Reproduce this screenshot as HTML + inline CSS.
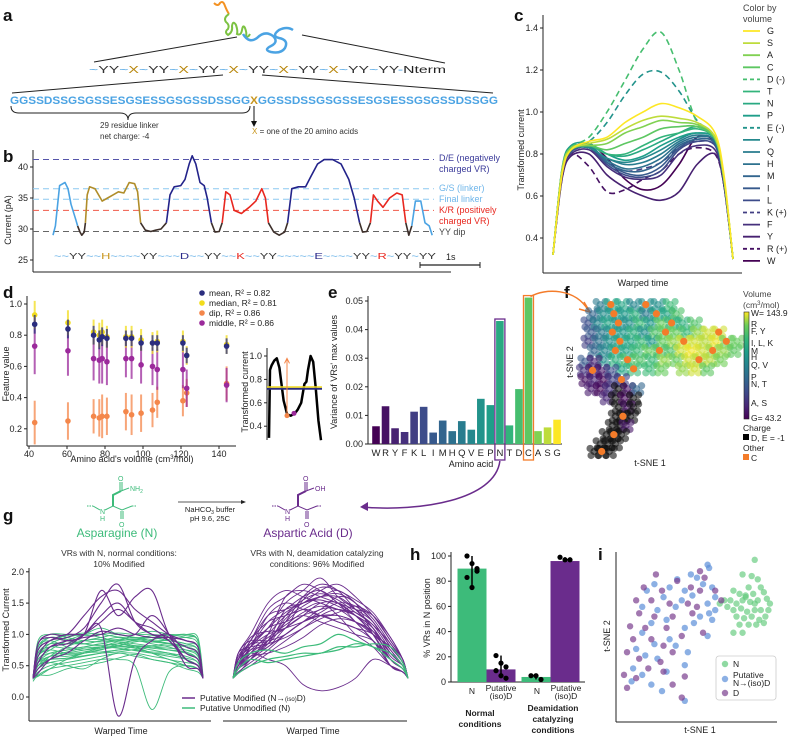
<!DOCTYPE html>
<html><head><meta charset="utf-8"><style>
html,body{margin:0;padding:0;background:#fff}
svg{display:block;font-family:"Liberation Sans",sans-serif}
</style></head><body>
<svg id="fig" xmlns="http://www.w3.org/2000/svg" width="792" height="745" viewBox="0 0 792 745">
<rect width="792" height="745" fill="#fff"/>
<g font-weight="bold" font-size="17" fill="#111">
<text x="3" y="21">a</text>
<text x="3" y="162">b</text>
<text x="514" y="21">c</text>
<text x="3" y="298">d</text>
<text x="328" y="298">e</text>
<text x="564" y="298">f</text>
<text x="3" y="521">g</text>
<text x="410" y="560">h</text>
<text x="598" y="560">i</text>
</g>
<g>
<path d="M214,3 q4,4 6,0 q3,-3 5,3 q2,5 4,8" fill="none" stroke="#f39223" stroke-width="2"/>
<path d="M229,14 q-6,4 -3,8 q4,3 2,7 q-4,3 0,6 q5,-3 4,-9 q1,-6 4,-1 q2,6 1,9 q4,2 5,-4 q1,-6 3,-2 q2,5 1,8 q2,2 4,-2" fill="none" stroke="#7cc242" stroke-width="2"/>
<path d="M243,34 q6,10 14,4 q8,-8 16,-2 q6,6 -2,10 q-8,4 0,6 q10,2 14,-4 q4,-8 -6,-10 q-8,-2 0,-8 q8,-4 14,0" fill="none" stroke="#4ba3e3" stroke-width="2.5"/>
<line x1="237" y1="37" x2="94" y2="62" stroke="#222" stroke-width="1"/>
<line x1="302" y1="35" x2="445" y2="63" stroke="#222" stroke-width="1"/>
<text x="89" y="73" font-size="10.5" textLength="357" lengthAdjust="spacingAndGlyphs"><tspan fill="#4ba3e3">~</tspan><tspan fill="#333">YY</tspan><tspan fill="#4ba3e3">~</tspan><tspan fill="#b8860b">X</tspan><tspan fill="#4ba3e3">~</tspan><tspan fill="#333">YY</tspan><tspan fill="#4ba3e3">~</tspan><tspan fill="#b8860b">X</tspan><tspan fill="#4ba3e3">~</tspan><tspan fill="#333">YY</tspan><tspan fill="#4ba3e3">~</tspan><tspan fill="#b8860b">X</tspan><tspan fill="#4ba3e3">~</tspan><tspan fill="#333">YY</tspan><tspan fill="#4ba3e3">~</tspan><tspan fill="#b8860b">X</tspan><tspan fill="#4ba3e3">~</tspan><tspan fill="#333">YY</tspan><tspan fill="#4ba3e3">~</tspan><tspan fill="#b8860b">X</tspan><tspan fill="#4ba3e3">~</tspan><tspan fill="#333">YY</tspan><tspan fill="#4ba3e3">~</tspan><tspan fill="#333">YY</tspan><tspan fill="#4ba3e3">-</tspan><tspan fill="#222">Nterm</tspan></text>
<line x1="223" y1="75" x2="12" y2="93" stroke="#222" stroke-width="1"/>
<line x1="262" y1="75" x2="493" y2="93" stroke="#222" stroke-width="1"/>
<text x="10" y="104" font-size="11" font-weight="bold" textLength="488" lengthAdjust="spacingAndGlyphs"><tspan fill="#4ba3e3">GGSSDSSGSGSSESGSESSGSGSSDSSGG</tspan><tspan fill="#c8961e">X</tspan><tspan fill="#4ba3e3">GGSSDSSGSGSSESGSESSGSGSSDSSGG</tspan></text>
<path d="M11,106 q0,7 8,7 L120,113 q8,0 8,7 q0,-7 8,-7 L242,113 q8,0 8,-7" fill="none" stroke="#222" stroke-width="1"/>
<text x="100" y="128" font-size="8" fill="#333">29 residue linker</text>
<text x="100" y="139" font-size="8" fill="#333">net charge: -4</text>
<line x1="254" y1="106" x2="254" y2="122" stroke="#111" stroke-width="1"/>
<path d="M251,121 L254,127 L257,121 Z" fill="#111"/>
<text x="252" y="134" font-size="8" fill="#333"><tspan fill="#c8961e">X</tspan> = one of the 20 amino acids</text>
</g>
<g font-size="9">
<text x="439" y="161" fill="#3b3b9a">D/E (negatively</text>
<text x="439" y="172" fill="#3b3b9a">charged VR)</text>
<text x="439" y="191" fill="#6fb6ea">G/S (linker)</text>
<text x="439" y="202" fill="#6fb6ea">Final linker</text>
<text x="439" y="213" fill="#e8271f">K/R (positively</text>
<text x="439" y="224" fill="#e8271f">charged VR)</text>
<text x="439" y="235" fill="#444">YY dip</text>
<text x="446" y="260" fill="#222">1s</text>
</g>
<text transform="translate(11,220) rotate(-90)" font-size="9" text-anchor="middle" fill="#222">Current (pA)</text>
<text x="54" y="259" font-size="8.5" textLength="382" lengthAdjust="spacingAndGlyphs"><tspan fill="#4ba3e3">~~</tspan><tspan fill="#333">YY</tspan><tspan fill="#4ba3e3">~~</tspan><tspan fill="#c8961e">H</tspan><tspan fill="#4ba3e3">~~~~</tspan><tspan fill="#333">YY</tspan><tspan fill="#4ba3e3">~~~</tspan><tspan fill="#2a2a8a">D</tspan><tspan fill="#4ba3e3">~~</tspan><tspan fill="#333">YY</tspan><tspan fill="#4ba3e3">~~</tspan><tspan fill="#e8271f">K</tspan><tspan fill="#4ba3e3">~~</tspan><tspan fill="#333">YY</tspan><tspan fill="#4ba3e3">~~~~~</tspan><tspan fill="#2a2a8a">E</tspan><tspan fill="#4ba3e3">~~~~</tspan><tspan fill="#333">YY</tspan><tspan fill="#4ba3e3">~</tspan><tspan fill="#e8271f">R</tspan><tspan fill="#4ba3e3">~</tspan><tspan fill="#333">YY</tspan><tspan fill="#4ba3e3">~</tspan><tspan fill="#333">YY</tspan></text>
<text x="743" y="11" font-size="9" fill="#444">Color by</text>
<text x="743" y="22" font-size="9" fill="#444">volume</text>
<text x="643" y="286" font-size="9" text-anchor="middle" fill="#222">Warped time</text>
<text transform="translate(524,150) rotate(-90)" font-size="9" text-anchor="middle" fill="#222">Transformed current</text>
<text x="132" y="462" font-size="9" text-anchor="middle" fill="#222">Amino acid's volume (cm<tspan font-size="6" dy="-3">3</tspan><tspan dy="3">/mol)</tspan></text>
<text transform="translate(9,374) rotate(-90)" font-size="9" text-anchor="middle" fill="#222">Feature value</text>
<text transform="translate(248,392) rotate(-90)" font-size="9" text-anchor="middle" fill="#222">Transformed current</text>
<text x="471" y="467" font-size="9" text-anchor="middle" fill="#222">Amino acid</text>
<text transform="translate(337,372) rotate(-90)" font-size="9" text-anchor="middle" fill="#222">Variance of VRs' max values</text>
<text transform="translate(573,362) rotate(-90)" font-size="9" text-anchor="middle" fill="#222">t-SNE 2</text>
<text x="650" y="466" font-size="9" text-anchor="middle" fill="#222">t-SNE 1</text>
<g font-size="8.5" fill="#222">
<text x="743" y="297" fill="#444">Volume</text>
<text x="743" y="308" fill="#444">(cm<tspan font-size="6" dy="-3">3</tspan><tspan dy="3">/mol)</tspan></text>
<text x="751" y="316">W= 143.9</text>
<text x="751" y="327">R</text><text x="751" y="334">F, Y</text>
<text x="751" y="346">I, L, K</text><text x="751" y="354">M</text><text x="751" y="360">H</text>
<text x="751" y="368">Q, V</text><text x="751" y="380">P</text><text x="751" y="387">N, T</text>
<text x="751" y="406">A, S</text><text x="751" y="421">G= 43.2</text>
<text x="743" y="431">Charge</text>
<rect x="743" y="434" width="6" height="6" fill="#000"/><text x="751" y="441">D, E = -1</text>
<text x="743" y="451">Other</text>
<rect x="743" y="454" width="6" height="6" fill="#f47c2a"/><text x="751" y="461">C</text>
</g>
<g stroke="#3dbb7a" stroke-width="1" fill="none">
<line x1="87" y1="506" x2="93" y2="506" stroke-dasharray="1.5,1"/>
<polyline points="93,506 100,510"/><polyline points="105,510 113,506 122,510 132,506"/>
<line x1="132" y1="506" x2="137" y2="506" stroke-dasharray="1.5,1"/>
<line x1="121" y1="511" x2="121" y2="519"/><line x1="123" y1="511" x2="123" y2="519"/>
<polyline points="113,506 113,495 121,491" stroke-width="2"/>
<line x1="120" y1="491" x2="120" y2="482"/><line x1="122" y1="491" x2="122" y2="482"/>
<line x1="121" y1="491" x2="129" y2="488"/>
</g>
<g font-size="7" fill="#3dbb7a"><text x="100" y="514">N</text><text x="100" y="521">H</text><text x="119" y="527">O</text><text x="118" y="481">O</text><text x="130" y="491">NH<tspan font-size="5" dy="2">2</tspan></text></g>
<g transform="translate(185,0)" stroke="#6a2c8c" stroke-width="1" fill="none">
<line x1="87" y1="506" x2="93" y2="506" stroke-dasharray="1.5,1"/>
<polyline points="93,506 100,510"/><polyline points="105,510 113,506 122,510 132,506"/>
<line x1="132" y1="506" x2="137" y2="506" stroke-dasharray="1.5,1"/>
<line x1="121" y1="511" x2="121" y2="519"/><line x1="123" y1="511" x2="123" y2="519"/>
<polyline points="113,506 113,495 121,491" stroke-width="2"/>
<line x1="120" y1="491" x2="120" y2="482"/><line x1="122" y1="491" x2="122" y2="482"/>
<line x1="121" y1="491" x2="129" y2="488"/>
</g>
<g font-size="7" fill="#6a2c8c"><text x="285" y="514">N</text><text x="285" y="521">H</text><text x="304" y="527">O</text><text x="303" y="481">O</text><text x="315" y="491">OH</text></g>
<line x1="178" y1="502" x2="243" y2="502" stroke="#222" stroke-width="0.8"/>
<path d="M241,500 L246,502 L241,504 Z" fill="#222"/>
<text x="210" y="512" font-size="7.5" text-anchor="middle" fill="#222">NaHCO<tspan font-size="5" dy="2">3</tspan><tspan dy="-2"> buffer</tspan></text>
<text x="210" y="521" font-size="7.5" text-anchor="middle" fill="#222">pH 9.6, 25C</text>
<text x="117" y="537" font-size="12" text-anchor="middle" fill="#3dbb7a">Asparagine (N)</text>
<text x="308" y="537" font-size="12" text-anchor="middle" fill="#6a2c8c">Aspartic Acid (D)</text>
<text x="119" y="556" font-size="8.5" text-anchor="middle" fill="#333">VRs with N, normal conditions:</text>
<text x="119" y="567" font-size="8.5" text-anchor="middle" fill="#333">10% Modified</text>
<text x="317" y="556" font-size="8.5" text-anchor="middle" fill="#333">VRs with N, deamidation catalyzing</text>
<text x="317" y="567" font-size="8.5" text-anchor="middle" fill="#333">conditions: 96% Modified</text>
<text x="121" y="734" font-size="9" text-anchor="middle" fill="#222">Warped Time</text>
<text x="313" y="734" font-size="9" text-anchor="middle" fill="#222">Warped Time</text>
<text transform="translate(9,630) rotate(-90)" font-size="9" text-anchor="middle" fill="#222">Transformed Current</text>
<text transform="translate(430,618) rotate(-90)" font-size="9" text-anchor="middle" fill="#222">% VRs in N position</text>
<g font-size="8.5" fill="#222" text-anchor="middle">
<text x="472" y="694">N</text><text x="501" y="691">Putative</text><text x="501" y="699">(iso)D</text>
<text x="537" y="694">N</text><text x="566" y="691">Putative</text><text x="566" y="699">(iso)D</text>
<g font-weight="bold"><text x="480" y="716">Normal</text><text x="480" y="727">conditions</text>
<text x="553" y="711">Deamidation</text><text x="553" y="722">catalyzing</text><text x="553" y="733">conditions</text></g>
</g>
<text transform="translate(610,636) rotate(-90)" font-size="9" text-anchor="middle" fill="#222">t-SNE 2</text>
<text x="700" y="733" font-size="9" text-anchor="middle" fill="#222">t-SNE 1</text>
<g id="layer"></g>
<g id="glegend" font-size="8.5" fill="#222">
<line x1="182" y1="698" x2="195" y2="698" stroke="#6a2c8c" stroke-width="1.5"/>
<text x="200" y="701">Putative Modified (N→<tspan font-size="6">(iso)</tspan>D)</text>
<line x1="182" y1="708" x2="195" y2="708" stroke="#3dbb7a" stroke-width="1.5"/>
<text x="200" y="711">Putative Unmodified (N)</text>
</g>
<g id="ilegend">
<rect x="716" y="656" width="60" height="44" rx="3" fill="#fff" fill-opacity="0.85" stroke="#ccc" stroke-width="0.8"/>
<circle cx="725" cy="664" r="3.2" fill="#5fc97a" fill-opacity="0.7"/><text x="733" y="667" font-size="8.5" fill="#222">N</text>
<circle cx="725" cy="679" r="3.2" fill="#5b8fd9" fill-opacity="0.7"/><text x="733" y="678" font-size="8.5" fill="#222">Putative</text><text x="733" y="686" font-size="8.5" fill="#222">N→(iso)D</text>
<circle cx="725" cy="693" r="3.2" fill="#7b3f8f" fill-opacity="0.7"/><text x="733" y="696" font-size="8.5" fill="#222">D</text>
</g>
</svg>
<script>
const NS='http://www.w3.org/2000/svg';
const layer=document.getElementById('layer');
function mk(tag,attrs,name,parent){
  const el=document.createElementNS(NS,tag);
  for(const k in attrs) el.setAttribute(k,attrs[k]);
  
  
  (parent||layer).appendChild(el);
  return el;
}
function txt(x,y,s,size,anchor,fill,name){
  const t=mk('text',{x:x,y:y,'font-size':size,'text-anchor':anchor||'start',fill:fill||'#222'},name);
  t.textContent=s;return t;
}
function pl(pts,stroke,w,name,dash,op){
  const a={points:pts.map(p=>p[0].toFixed(1)+','+p[1].toFixed(1)).join(' '),fill:'none',stroke:stroke,'stroke-width':w,'stroke-linejoin':'round'};
  if(dash)a['stroke-dasharray']=dash; if(op)a['stroke-opacity']=op;
  return mk('polyline',a,name);
}
function sm(pts,stroke,w,name,dash,op){
  let d='M'+pts[0][0].toFixed(1)+','+pts[0][1].toFixed(1);
  for(let i=0;i<pts.length-1;i++){
    const p0=pts[Math.max(0,i-1)],p1=pts[i],p2=pts[i+1],p3=pts[Math.min(pts.length-1,i+2)];
    const c1=[p1[0]+(p2[0]-p0[0])/6,p1[1]+(p2[1]-p0[1])/6],c2=[p2[0]-(p3[0]-p1[0])/6,p2[1]-(p3[1]-p1[1])/6];
    d+=' C'+c1[0].toFixed(1)+','+c1[1].toFixed(1)+' '+c2[0].toFixed(1)+','+c2[1].toFixed(1)+' '+p2[0].toFixed(1)+','+p2[1].toFixed(1);
  }
  const a={d:d,fill:'none',stroke:stroke,'stroke-width':w,'stroke-linejoin':'round'};
  if(dash)a['stroke-dasharray']=dash; if(op)a['stroke-opacity']=op;
  return mk('path',a,name);
}
const VIR=[[0,[68,1,84]],[.13,[72,40,120]],[.25,[62,73,137]],[.38,[49,104,142]],[.5,[38,130,142]],[.63,[31,158,137]],[.75,[53,183,121]],[.88,[110,206,88]],[1,[253,231,37]]];
function vir(t){t=Math.max(0,Math.min(1,t));for(let i=1;i<VIR.length;i++){if(t<=VIR[i][0]){const a=VIR[i-1],b=VIR[i],f=(t-a[0])/(b[0]-a[0]);const c=a[1].map((v,j)=>Math.round(v+(b[1][j]-v)*f));return 'rgb('+c.join(',')+')';}}return 'rgb(253,231,37)';}

/* ===== panel b ===== */
const bTicks=[25,30,35,40];
const bRefLevels=[41.2,36.5,34.8,33.0,29.6];
const bRefColors=['#5555aa','#8cc8f0','#8cc8f0','#f05a4a','#666'];
const bSegColors=['#4ba3e3','#3d2f2a','#b08d2a','#3d2f2a','#23238a','#3d2f2a','#e8271f','#3d2f2a','#23238a','#3d2f2a','#e8271f','#3d2f2a','#4ba3e3'];
const bSegT=[[0,.04,.11,.2,.25,.3,.38,.41],[.41,.45,.48,.52,.54],[.54,.57,.61,.7,.82,.91,1.0,1.09,1.18,1.27,1.36,1.41,1.46],[1.46,1.54,1.63,1.71,1.8,1.89],[1.89,1.95,2.02,2.13,2.2,2.27,2.32,2.38,2.45,2.52,2.57,2.64],[2.64,2.7,2.77,2.82],[2.82,2.88,2.95,3.02,3.14,3.27,3.38,3.48,3.54,3.59],[3.59,3.68,3.77,3.86,3.91],[3.91,3.98,4.09,4.21,4.3,4.41,4.52,4.66,4.8,4.93,5.02,5.11],[5.11,5.16,5.23,5.29],[5.29,5.34,5.41,5.5,5.61,5.73,5.82,5.88],[5.88,5.93,5.98],[5.98,6.04,6.13,6.2,6.27,6.32]];
const bSegV=[[29,30.5,37,37.5,36.5,34,31.5,30.5],[30.5,29.5,29,29.5,31],[31,35.5,36.8,36.5,34.5,35,35.5,36,35.8,37.5,37.3,36,31],[31,29.8,29.6,29.8,30,31],[31,35.5,36.8,37,38,40.5,41.8,40.5,37.5,37,35,31],[31,29.5,29.6,31],[31,36,35.5,33,32.5,33.5,34.5,36.5,35,31],[31,29.5,29,29.5,31],[31,36.5,36.8,36.8,38.5,40.5,41.2,41.2,40.5,38,35,31],[31,29.5,29.6,31],[31,35.5,34.5,33.5,35,35.8,35.5,31],[31,29,30.5],[30.5,34.5,34.5,31,30.5,29]];
(function(){
  const bx=t=>53+t*60, by=v=>167+(40-v)*6.2;
  mk('line',{x1:33,y1:150,x2:33,y2:272,stroke:'#222','stroke-width':1},'b-y-axis');
  mk('line',{x1:33,y1:272,x2:451,y2:272,stroke:'#222','stroke-width':1},'b-x-axis');
  bTicks.forEach(v=>{mk('line',{x1:30,y1:by(v),x2:33,y2:by(v),stroke:'#222'},'b-y-tick');txt(28,by(v)+3,String(v),9,'end','#222','b-y-tick-label');});
  bRefLevels.forEach((v,i)=>mk('line',{x1:33,y1:by(v),x2:434,y2:by(v),stroke:bRefColors[i],'stroke-width':1,'stroke-dasharray':'6,4'},'b-reference-line'));
  bSegT.forEach((ts,i)=>pl(ts.map((t,j)=>[bx(t),by(bSegV[i][j])]),bSegColors[i],1.6,'b-current-trace-segment'));
  mk('line',{x1:420,y1:265,x2:480,y2:265,stroke:'#222','stroke-width':1.2},'b-scale-bar');
  mk('line',{x1:420,y1:262,x2:420,y2:268,stroke:'#222'},'b-scale-bar-end');
  mk('line',{x1:480,y1:262,x2:480,y2:268,stroke:'#222'},'b-scale-bar-end');
})();

/* ===== panel c ===== */
const cTime=[0,.05,.1,.2,.3,.4,.5,.6,.7,.8,.9,.95,1];
const cNames=['G','S','A','C','D (-)','T','N','P','E (-)','V','Q','H','M','I','L','K (+)','F','Y','R (+)','W'];
const cDashed=[0,0,0,0,1,0,0,0,1,0,0,0,0,0,0,1,0,0,1,0];
const cYTicks=[0.4,0.6,0.8,1.0,1.2,1.4];
const cSeries=[
[.32,.7,.82,.86,.88,.95,1.0,1.04,1.02,.98,.9,.7,.3],
[.32,.72,.82,.85,.87,.92,.96,.98,.97,.95,.88,.68,.3],
[.32,.72,.83,.84,.85,.9,.93,.96,.95,.94,.88,.68,.3],
[.32,.72,.82,.84,.82,.85,.88,.92,.93,.93,.87,.68,.3],
[.32,.72,.83,.88,1.0,1.15,1.3,1.38,1.2,.95,.88,.68,.3],
[.32,.72,.82,.84,.8,.8,.84,.88,.9,.92,.87,.68,.3],
[.32,.72,.83,.84,.8,.79,.82,.86,.9,.93,.88,.68,.3],
[.32,.73,.84,.85,.8,.77,.79,.84,.88,.9,.87,.68,.3],
[.32,.72,.83,.86,.95,1.08,1.18,1.19,1.1,.96,.88,.68,.3],
[.32,.72,.82,.83,.78,.76,.78,.82,.87,.9,.87,.68,.3],
[.32,.72,.82,.83,.78,.75,.76,.8,.86,.89,.86,.67,.3],
[.32,.72,.82,.84,.77,.73,.74,.78,.85,.88,.86,.67,.3],
[.32,.71,.82,.84,.76,.72,.72,.76,.84,.87,.85,.67,.3],
[.32,.71,.81,.84,.76,.71,.7,.74,.83,.87,.85,.67,.3],
[.32,.71,.81,.83,.75,.7,.69,.72,.82,.86,.84,.67,.3],
[.32,.71,.81,.83,.76,.72,.73,.76,.83,.86,.84,.67,.3],
[.32,.7,.8,.82,.74,.69,.68,.7,.8,.84,.82,.66,.3],
[.32,.68,.79,.8,.7,.64,.6,.58,.62,.75,.8,.65,.3],
[.32,.68,.8,.74,.62,.63,.68,.72,.8,.83,.8,.65,.3],
[.32,.7,.82,.85,.78,.68,.63,.65,.75,.88,.85,.65,.3]];
(function(){
  const cx=t=>553+t*180, cy=v=>112+(1-v)*210;
  mk('line',{x1:543,y1:15,x2:543,y2:273,stroke:'#222'},'c-y-axis');
  mk('line',{x1:543,y1:273,x2:742,y2:273,stroke:'#222'},'c-x-axis');
  cYTicks.forEach(v=>{mk('line',{x1:540,y1:cy(v),x2:543,y2:cy(v),stroke:'#222'},'c-y-tick');txt(538,cy(v)+3,v.toFixed(1),9,'end','#222','c-y-tick-label');});
  const n=cNames.length;
  for(let i=n-1;i>=0;i--){
    const col=vir(1-i/(n-1));
    sm(cTime.map((t,j)=>[cx(t),cy(cSeries[i][j])]),col,1.6,'c-series-line',cDashed[i]?'6,4':null);
  }
  cNames.forEach((nm,i)=>{const y=31+i*12.1,col=vir(1-i/(n-1));
    mk('line',{x1:743,y1:y,x2:760,y2:y,stroke:col,'stroke-width':1.8,'stroke-dasharray':cDashed[i]?'4,3':'none'},'c-legend-swatch');
    txt(767,y+3,nm,9,'start','#222','c-legend-label');});
})();

/* ===== panel d ===== */
const dVol=[43,60.5,74,77,78.5,81,91,94,99,105,107.5,121,123,144];
const dMean=[.87,.84,.80,.77,.79,.78,.78,.78,.75,.75,.75,.75,.67,.73];
const dMedian=[.93,.88,.82,.80,.82,.79,.79,.79,.77,.75,.76,.76,.67,.74];
const dDip=[.24,.25,.28,.27,.28,.28,.31,.29,.30,.32,.37,.38,.43,.49];
const dMiddle=[.73,.70,.65,.64,.65,.63,.65,.65,.61,.60,.58,.58,.46,.48];
const dMeanErr=[.06,.06,.06,.06,.06,.06,.05,.05,.05,.05,.05,.05,.05,.05];
const dMedErr=[.09,.08,.08,.08,.08,.07,.07,.07,.07,.07,.07,.07,.06,.06];
const dDipErr=[.14,.12,.11,.12,.14,.12,.12,.13,.12,.11,.1,.1,.09,.11];
const dMidErr=[.18,.16,.14,.15,.16,.15,.12,.13,.12,.12,.13,.12,.12,.11];
const dXTicks=[40,60,80,100,120,140];
const dYTicks=[0.2,0.4,0.6,0.8,1.0];
const insetT=[0,.02,.05,.1,.15,.2,.28,.35,.42,.5,.55,.62,.68,.72,.75,.8,.85,.9,.95,1];
const insetV=[.3,.88,.92,.96,.98,.9,.62,.5,.49,.51,.54,.6,.76,.78,.88,1.0,.95,.72,.45,.28];
(function(){
  const dx=v=>29+(v-40)*1.9, dy=v=>304+(1-v)*156;
  mk('line',{x1:27,y1:296,x2:27,y2:446,stroke:'#222'},'d-y-axis');
  mk('line',{x1:27,y1:446,x2:236,y2:446,stroke:'#222'},'d-x-axis');
  dXTicks.forEach(v=>{mk('line',{x1:dx(v),y1:446,x2:dx(v),y2:449,stroke:'#222'},'d-x-tick');txt(dx(v),457,String(v),9,'middle','#222','d-x-tick-label');});
  dYTicks.forEach(v=>{mk('line',{x1:24,y1:dy(v),x2:27,y2:dy(v),stroke:'#222'},'d-y-tick');txt(22,dy(v)+3,v.toFixed(1),9,'end','#222','d-y-tick-label');});
  const sets=[[dDip,dDipErr,'#f4874b','d-dip-point'],[dMiddle,dMidErr,'#9b2a9b','d-middle-point'],[dMedian,dMedErr,'#f2dc1c','d-median-point'],[dMean,dMeanErr,'#2b2d7e','d-mean-point']];
  sets.forEach(s=>{dVol.forEach((v,i)=>{const x=dx(v);
    mk('line',{x1:x,y1:dy(s[0][i]+s[1][i]),x2:x,y2:dy(s[0][i]-s[1][i]),stroke:s[2],'stroke-width':2,'stroke-opacity':0.75},s[3]+'-error');
    mk('circle',{cx:x,cy:dy(s[0][i]),r:2.8,fill:s[2]},s[3]);});});
  const leg=[['mean, R² = 0.82','#2b2d7e'],['median, R² = 0.81','#f2dc1c'],['dip, R² = 0.86','#f4874b'],['middle, R² = 0.86','#9b2a9b']];
  leg.forEach((l,i)=>{mk('circle',{cx:202,cy:293+i*10,r:2.8,fill:l[1]},'d-legend-marker');txt(209,296+i*10,l[0],8.5,'start','#222','d-legend-label');});
  const ix=t=>269+t*52, iy=v=>356+(1-v)*117;
  mk('line',{x1:267,y1:348,x2:267,y2:440,stroke:'#222'},'inset-y-axis');
  [0.4,0.6,0.8,1.0].forEach(v=>{mk('line',{x1:264,y1:iy(v),x2:267,y2:iy(v),stroke:'#222'},'inset-tick');txt(262,iy(v)+3,v.toFixed(1),9,'end','#222','inset-tick-label');});
  pl(insetT.map((t,i)=>[ix(t),iy(insetV[i])]),'#000',2.5,'inset-trace');
  mk('line',{x1:267,y1:iy(0.72),x2:322,y2:iy(0.72),stroke:'#2b2d7e','stroke-width':2},'inset-mean-line');
  mk('line',{x1:267,y1:iy(0.735),x2:322,y2:iy(0.735),stroke:'#f2dc1c','stroke-width':1.6},'inset-median-line');
  mk('line',{x1:287,y1:iy(0.49),x2:287,y2:iy(0.98),stroke:'#f4874b','stroke-width':1},'inset-dip-arrow');
  mk('path',{d:'M284.5,'+(iy(0.98)+5)+' L287,'+iy(0.98)+' L289.5,'+(iy(0.98)+5),fill:'none',stroke:'#f4874b'},'inset-arrowhead');
  mk('circle',{cx:287,cy:iy(0.49),r:2.5,fill:'#f4874b'},'inset-dip-point');
  mk('circle',{cx:294,cy:iy(0.51),r:2.5,fill:'#9b2a9b'},'inset-middle-point');
})();

/* ===== panel e ===== */
const eAA=['W','R','Y','F','K','L','I','M','H','Q','V','E','P','N','T','D','C','A','S','G'];
const eVar=[.0062,.0132,.0055,.0042,.0113,.013,.0040,.0082,.0045,.008,.005,.0158,.0136,.043,.0065,.0192,.0512,.0045,.0058,.0085];
const eYTicks=[0,0.01,0.02,0.03,0.04,0.05];
(function(){
  const ex=i=>376+i*9.53, ey=v=>444-v*2860;
  mk('line',{x1:368,y1:296,x2:368,y2:444,stroke:'#222'},'e-y-axis');
  mk('line',{x1:368,y1:444,x2:562,y2:444,stroke:'#222'},'e-x-axis');
  eYTicks.forEach(v=>{mk('line',{x1:365,y1:ey(v),x2:368,y2:ey(v),stroke:'#222'},'e-y-tick');txt(363,ey(v)+3,v.toFixed(2),9,'end','#222','e-y-tick-label');});
  eAA.forEach((a,i)=>{
    mk('rect',{x:ex(i)-3.8,y:ey(eVar[i]),width:7.6,height:444-ey(eVar[i]),fill:vir(i/(eAA.length-1))},'e-bar-'+a);
    txt(ex(i),456,a,9.5,'middle','#222','e-x-tick-label');});
  const iN=eAA.indexOf('N'), iC=eAA.indexOf('C');
  mk('rect',{x:ex(iN)-5,y:ey(eVar[iN])-2,width:10,height:460-ey(eVar[iN])+2,fill:'none',stroke:'#6a2c8c','stroke-width':1.3},'e-highlight-N');
  mk('rect',{x:ex(iC)-5,y:ey(eVar[iC])-2,width:10,height:460-ey(eVar[iC])+2,fill:'none',stroke:'#f47c2a','stroke-width':1.3},'e-highlight-C');
  mk('path',{d:'M'+(ex(iC)+2)+','+(ey(eVar[iC])-1)+' C545,288 575,288 588,310',fill:'none',stroke:'#f47c2a','stroke-width':1.5},'orange-link-arrow');
  mk('path',{d:'M584,302 L590,312 L579,309',fill:'none',stroke:'#f47c2a','stroke-width':1.5},'orange-arrowhead');
  mk('path',{d:'M'+ex(iN)+',461 C495,500 420,512 362,507',fill:'none',stroke:'#6a2c8c','stroke-width':1.5},'purple-link-arrow');
  mk('path',{d:'M368,502 L360,507 L368,511 Z',fill:'#6a2c8c'},'purple-arrowhead');
})();

/* ===== panel f ===== */
const fRowT2=[97,91,85,79,73,67,61,55,60,54,48,42,36,30,24,18,12,6,1];
const fRowT1=[[8,15,22,30,38,46,54],[3,10,17,24,31,38,45,52,58],[0,6,13,20,27,34,41,48,55,62,70],[2,9,16,23,30,37,44,51,58,65,72,79,86],[0,7,14,21,28,35,42,49,56,63,70,77,84,91,98],[4,11,18,25,32,40,47,54,61,68,75,82,89,96],[10,18,26,34,42,50,58,66,73,80,87],[22,30,40,48,62,70,78],[-2,4],[-3,3,9,15],[-2,4,10,16,22],[2,8,14,20,26,32],[12,18,24,30],[20,26,30],[18,23,28],[16,21,25],[12,17,22],[8,13,18],[4,9,14]];
const fRowVol=[[90,-1,110,95,-1,100,120],[80,100,-1,105,115,90,-1,110,125],[70,95,110,-1,100,120,105,130,-1,115,125],[75,90,-1,105,115,100,125,-1,130,120,135,140,-1],[65,85,100,-1,110,120,105,130,135,-1,140,138,142,-1,130],[80,95,-1,110,120,130,-1,125,140,143,140,-1,135,128],[100,115,-1,125,120,135,130,140,-1,138,132],[110,-1,120,130,135,140,128],[75,55],[60,-1,50,70],[48,55,45,65,-1],[52,45,60,0,48,80],[55,0,45,0],[0,48,0],[0,-1,0],[0,0,50],[0,-1,0],[0,0,0],[0,-1,0]];
(function(){
  const fx=t=>588+t*1.52, fy=t=>453-t*1.53;
  const orange=[];
  const off=[[0,0],[5,-3],[-3,4],[4,4],[-4,-3]];
  fRowT2.forEach((t2,r)=>fRowT1[r].forEach((t1,k)=>{const v=fRowVol[r][k];
    const near=fRowVol[r][k+1]!==undefined&&fRowVol[r][k+1]!==-1?fRowVol[r][k+1]:fRowVol[r][k-1];
    const base=v===-1?(near===undefined||near===-1?100:near):v;
    if(v===-1)orange.push([t1,t2]);
    const col=base===0?'#111':vir((base-43.2)/(143.9-43.2));
    off.forEach(o=>mk('circle',{cx:fx(t1)+o[0],cy:fy(t2)+o[1],r:3.6,fill:col,'fill-opacity':0.6},'f-point'));}));
  orange.forEach(p=>mk('circle',{cx:fx(p[0]),cy:fy(p[1]),r:3.6,fill:'#f47c2a'},'f-point-C'));
  const g=mk('linearGradient',{id:'vg',x1:0,y1:1,x2:0,y2:0},'colorbar-gradient');
  for(let i=0;i<=8;i++){mk('stop',{offset:i/8,'stop-color':vir(i/8)},'gradient-stop',g);}
  mk('rect',{x:744,y:312,width:5,height:107,fill:'url(#vg)',stroke:'#222','stroke-width':0.6},'f-colorbar');
})();

/* ===== panel g ===== */
const gTime=[0,.03,.1,.2,.3,.4,.5,.6,.7,.8,.9,.97,1];
const gYTicks=[0,0.5,1.0,1.5,2.0];
const gLeftGreen=[
[.3,.85,1.0,1.0,.98,1.0,1.02,1.0,1.0,.98,1.0,.9,.3],[.35,.65,.8,.85,.85,.9,.95,.9,.88,.85,.8,.7,.3],
[.3,.45,.6,.7,.75,.8,.8,.78,.7,.65,.6,.5,.3],[.3,.55,.7,.75,.8,.85,.82,.8,.75,.7,.65,.55,.3],
[.3,.4,.5,.55,.6,.65,.7,.7,.65,.6,.5,.45,.3],[.28,.6,.75,.9,1.0,1.1,1.0,.95,.9,.85,.75,.65,.3],
[.3,.5,.65,.65,.7,.75,.85,.9,.85,.8,.7,.6,.3],[.3,.75,.95,.9,.85,.9,.92,.95,.9,.9,.85,.75,.3],
[.25,.35,.45,.5,.55,.6,.6,.5,-.2,.4,.5,.45,.3],[.3,.65,.85,.95,1.0,.95,.9,1.0,1.05,1.0,.95,.85,.3],
[.35,.55,.6,.62,.7,.72,.75,.8,.8,.75,.7,.6,.3],[.3,.45,.55,.6,.65,.7,.75,.75,.72,.7,.6,.5,.3],
[.3,.7,.85,.85,.9,.95,1.0,.95,.95,.9,.85,.8,.3],[.3,.33,.45,.6,.7,.8,.85,.8,.7,.6,.55,.5,.3],
[.3,.9,1.0,.95,.9,.88,.9,.92,.95,.98,1.0,.95,.35],[.3,.5,.55,.5,.45,.6,.7,.65,.6,.55,.45,.4,.3],
[.32,.8,.9,.8,.75,.8,.88,.85,.82,.85,.8,.7,.3],[.3,.35,.35,.45,.5,.55,.62,.68,.6,.55,.5,.45,.3],
[.3,.65,.75,.7,.72,.78,.82,.88,.92,.95,.9,.8,.3],[.3,.45,.65,.8,.9,.92,.88,.82,.78,.75,.72,.6,.3],
[.3,.8,.95,.92,.85,.82,.85,.9,.88,.92,.95,.9,.3],[.3,.55,.65,.72,.78,.8,.78,.74,.7,.68,.62,.55,.3],
[.3,.6,.7,.68,.7,.76,.8,.82,.8,.78,.75,.68,.3],[.3,.7,.8,.78,.8,.85,.9,.92,.9,.86,.82,.75,.3],
[.3,.5,.6,.62,.66,.7,.72,.76,.8,.82,.8,.7,.3],[.3,.75,.9,.98,1.02,1.0,.96,.94,.98,1.0,.98,.9,.3]];
const gLeftPurple=[
[.3,.85,1.0,1.0,1.3,1.6,1.7,1.4,1.2,1.0,.9,.8,.3],[.3,.65,.9,.95,1.1,1.5,1.8,1.2,1.0,.9,.6,.5,.3],
[.3,.55,.8,.9,1.0,1.7,1.3,1.6,1.7,1.0,.8,.7,.3],[.3,.75,.9,1.0,1.0,1.1,-.3,.6,.9,1.0,.7,.6,.3],
[.3,.55,.8,.85,1.0,1.2,1.4,1.2,1.0,.95,.6,.5,.3],[.3,.45,.6,.7,.9,1.05,1.0,1.0,1.3,1.0,.5,.45,.3],
[.3,.85,.95,.9,.95,1.0,1.1,1.0,.95,.95,.9,.8,.3],[.3,.38,.6,.8,1.0,1.3,1.5,1.2,1.1,.9,.6,.5,.3]];
const gRightPurple=[
[.3,.5,.8,1.2,1.4,1.6,1.7,1.5,1.3,1.0,.6,.45,.3],[.3,.45,.7,1.0,1.3,1.5,1.6,1.6,1.4,1.1,.7,.5,.3],
[.3,.6,.9,1.4,1.6,1.8,1.7,1.5,1.2,.9,.5,.4,.3],[.3,.38,.6,.9,1.1,1.3,1.5,1.5,1.3,1.0,.6,.45,.3],
[.3,.5,.8,1.1,1.5,1.7,1.9,1.6,1.4,1.2,.8,.55,.3],[.3,.45,.6,.8,1.0,1.2,1.4,1.4,1.2,.9,.6,.45,.3],
[.3,.7,1.0,1.5,1.7,1.6,1.5,1.4,1.3,1.1,.7,.5,.3],[.3,.45,.7,.9,1.2,1.4,1.3,1.2,1.1,.9,.5,.4,.3],
[.3,.55,.7,.6,.5,.2,.1,.15,.3,.6,.5,.4,.3],[.3,.6,.9,1.3,1.4,1.5,1.6,1.7,1.5,1.2,.8,.55,.3],
[.3,.38,.5,.7,.9,1.1,1.3,1.4,1.3,1.1,.7,.5,.3],[.3,.5,.9,1.2,1.3,1.4,1.5,1.3,1.0,.8,.5,.4,.3],
[.3,.45,.6,1.0,1.6,1.7,1.6,1.5,1.4,1.3,.9,.6,.3],[.3,.6,.8,1.1,1.2,1.3,1.2,1.1,1.0,.9,.6,.45,.3],
[.3,.45,.6,.9,1.4,1.5,1.7,1.8,1.6,1.3,.9,.6,.3],[.3,.5,.7,.8,1.1,1.3,1.4,1.6,1.5,1.0,.6,.45,.3],
[.3,.7,.9,.9,1.0,1.2,1.3,1.2,1.1,1.0,.7,.5,.3],[.3,.45,.8,1.3,1.5,1.4,1.3,1.3,1.2,1.0,.5,.4,.3],
[.3,.55,.75,.85,1.2,1.6,1.8,1.7,1.4,1.1,.6,.45,.3],[.3,.6,.8,1.0,1.1,1.2,1.3,1.3,1.2,1.0,.8,.55,.3],
[.3,.4,.55,.75,1.0,1.2,1.35,1.5,1.45,1.2,.8,.55,.3],[.3,.55,.85,1.1,1.35,1.5,1.55,1.45,1.3,1.05,.65,.5,.3],
[.3,.65,.85,.9,1.25,1.45,1.6,1.65,1.5,1.25,.85,.6,.3],[.3,.5,.75,.95,1.15,1.35,1.45,1.4,1.35,1.15,.75,.5,.3],
[.3,.6,.95,1.05,1.1,1.55,1.75,1.7,1.55,1.35,.95,.6,.3],[.3,.45,.65,.85,1.3,1.55,1.65,1.55,1.35,1.15,.85,.55,.3],
[.3,.7,.8,.85,.95,1.1,1.25,1.35,1.45,1.3,.95,.6,.3],[.3,.5,.65,.7,.8,.95,1.15,1.25,1.2,1.05,.75,.5,.3]];
const gRightGreen=[
[.3,.55,.7,.75,.7,.8,.85,1.0,.9,.8,.7,.5,.3],[.3,.45,.6,.55,.6,.65,.7,.75,.85,.8,.6,.45,.3],
[.3,.38,.5,.6,.65,.7,.7,.8,.8,.85,.8,.55,.3]];
(function(){
  const gy=v=>697-v*62.6, lx=t=>33+t*170, rx=t=>233+t*175;
  mk('line',{x1:29,y1:568,x2:29,y2:721,stroke:'#222'},'g-y-axis');
  mk('line',{x1:29,y1:721,x2:211,y2:721,stroke:'#222'},'g-x-axis-left');
  mk('line',{x1:223,y1:721,x2:407,y2:721,stroke:'#222'},'g-x-axis-right');
  gYTicks.forEach(v=>{mk('line',{x1:26,y1:gy(v),x2:29,y2:gy(v),stroke:'#222'},'g-y-tick');txt(24,gy(v)+3,v.toFixed(1),9,'end','#222','g-y-tick-label');});
  gLeftGreen.forEach(s=>sm(gTime.map((t,j)=>[lx(t),gy(s[j])]),'#3dbb7a',0.9,'g-left-unmodified-trace'));
  gLeftPurple.forEach(s=>sm(gTime.map((t,j)=>[lx(t),gy(s[j])]),'#6a2c8c',1.1,'g-left-modified-trace'));
  gRightPurple.forEach(s=>sm(gTime.map((t,j)=>[rx(t),gy(s[j])]),'#6a2c8c',0.9,'g-right-modified-trace'));
  gRightGreen.forEach(s=>sm(gTime.map((t,j)=>[rx(t),gy(s[j])]),'#3dbb7a',1.2,'g-right-unmodified-trace'));
})();

/* ===== panel h ===== */
const hGroups=['N normal','Putative (iso)D normal','N deamidation','Putative (iso)D deamidation'];
const hValues=[90,10,4,96];
const hColors=['#3dbb7a','#6a2c8c','#3dbb7a','#6a2c8c'];
const hPoints=[[100,94,88,83,75,90],[21,15,12,9,5,3],[5,5,2],[99,97,97]];
const hYTicks=[0,20,40,60,80,100];
(function(){
  const hy=v=>682-v*1.26, hx=[472,501,536,565];
  mk('line',{x1:451,y1:552,x2:451,y2:682,stroke:'#222'},'h-y-axis');
  mk('line',{x1:451,y1:682,x2:585,y2:682,stroke:'#222'},'h-x-axis');
  hYTicks.forEach(v=>{mk('line',{x1:448,y1:hy(v),x2:451,y2:hy(v),stroke:'#222'},'h-y-tick');txt(446,hy(v)+3,String(v),9,'end','#222','h-y-tick-label');});
  hValues.forEach((v,i)=>{
    mk('rect',{x:hx[i]-14.5,y:hy(v),width:29,height:682-hy(v),fill:hColors[i]},'h-bar');
    const pts=hPoints[i];const mn=Math.min(...pts),mx=Math.max(...pts);
    mk('line',{x1:hx[i],y1:hy(mx),x2:hx[i],y2:hy(mn),stroke:'#000','stroke-width':1.5},'h-error-bar');
    pts.forEach((p,k)=>mk('circle',{cx:hx[i]+((k%3)-1)*5,cy:hy(p),r:2.6,fill:'#000'},'h-replicate-point'));});
})();

/* ===== panel i ===== */
const iN=[[86,97],[78,88],[84,87],[88,85],[82,80],[90,80],[72,78],[76,76],[80,75],[85,76],[92,77],[70,72],[74,70],[78,72],[83,71],[88,72],[94,73],[96,70],[68,68],[72,66],[77,67],[81,65],[86,66],[90,66],[95,66],[74,62],[79,61],[84,62],[89,60],[93,62],[76,57],[82,57],[87,57],[92,58],[72,52],[78,52],[80,74],[86,70],[63,70],[66,72]];
const iP=[[55,94],[56,92],[44,88],[48,86],[20,82],[35,85],[15,78],[30,80],[40,78],[52,82],[58,80],[26,74],[38,72],[45,75],[55,70],[60,74],[12,68],[22,66],[34,68],[50,62],[56,64],[58,60],[18,58],[28,60],[40,55],[55,50],[12,52],[30,48],[20,45],[8,42],[14,38],[22,36],[6,30],[12,26],[28,28],[40,32],[5,22],[18,20],[25,16],[40,10],[60,66],[46,58],[34,44],[42,40]];
const iD=[[21,88],[35,84],[50,90],[53,86],[13,80],[25,78],[44,80],[50,78],[60,78],[8,72],[18,72],[30,70],[42,70],[48,68],[64,72],[10,64],[20,62],[32,62],[45,64],[4,56],[14,55],[28,55],[38,50],[52,52],[6,48],[18,48],[26,44],[2,40],[10,36],[24,34],[32,40],[0,26],[8,24],[16,30],[26,28],[32,20],[2,18],[40,25],[38,12]];
(function(){
  const ix=t=>624+t*1.52, iy=t=>717-t*1.62;
  mk('line',{x1:616,y1:552,x2:616,y2:722,stroke:'#222'},'i-y-axis');
  mk('line',{x1:616,y1:722,x2:777,y2:722,stroke:'#222'},'i-x-axis');
  iN.forEach(p=>mk('circle',{cx:ix(p[0]),cy:iy(p[1]),r:3.2,fill:'#5fc97a','fill-opacity':0.65},'i-point-N'));
  iP.forEach(p=>mk('circle',{cx:ix(p[0]),cy:iy(p[1]),r:3.2,fill:'#5b8fd9','fill-opacity':0.7},'i-point-putative'));
  iD.forEach(p=>mk('circle',{cx:ix(p[0]),cy:iy(p[1]),r:3.2,fill:'#7b3f8f','fill-opacity':0.7},'i-point-D'));
})();
const fig=document.getElementById('fig');
fig.appendChild(document.getElementById('glegend'));
fig.appendChild(document.getElementById('ilegend'));
</script>
</body></html>
